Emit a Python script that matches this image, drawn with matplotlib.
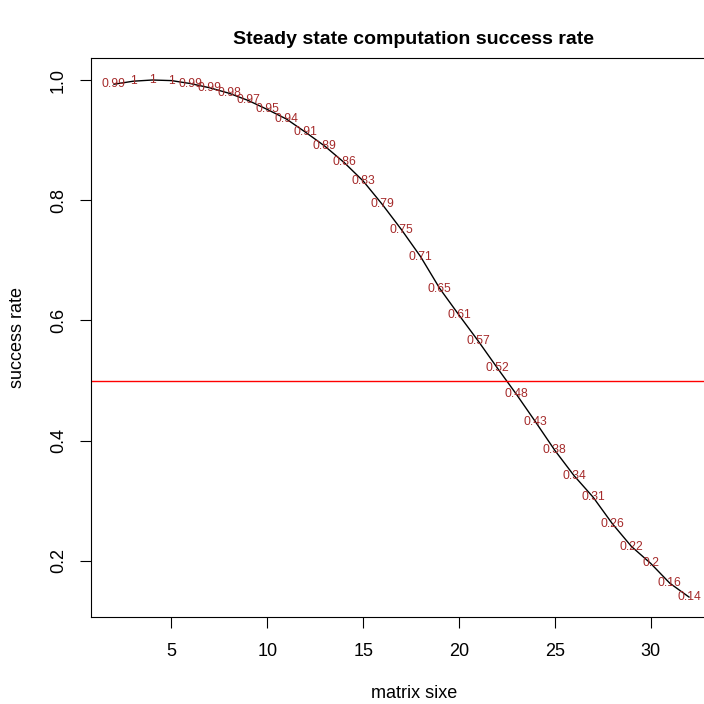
import numpy as np
import matplotlib.pyplot as plt

plt.rcParams['font.family'] = ['Liberation Sans', 'DejaVu Sans']

# matrix size vs. success rate
sizes = np.arange(2, 33)
rates = [0.993, 0.998, 1.0, 0.999, 0.994, 0.987, 0.978, 0.966, 0.951, 0.935,
         0.913, 0.890, 0.863, 0.832, 0.793, 0.751, 0.706, 0.653, 0.609, 0.566,
         0.521, 0.477, 0.431, 0.384, 0.342, 0.306, 0.262, 0.224, 0.196, 0.163,
         0.140]
labels = ['0.99', '1', '1', '1', '0.99', '0.99', '0.98', '0.97', '0.95', '0.94',
          '0.91', '0.89', '0.86', '0.83', '0.79', '0.75', '0.71', '0.65', '0.61',
          '0.57', '0.52', '0.48', '0.43', '0.38', '0.34', '0.31', '0.26', '0.22',
          '0.2', '0.16', '0.14']
threshold = 0.5

W = 704
fig = plt.figure(figsize=(7.04, 7.04), dpi=100)
ax = fig.add_axes([91 / W, 1 - 617 / W, (712 - 91) / W, (617 - 58) / W])

ax.plot(sizes, rates, color='black', linewidth=1)
for x, y, t in zip(sizes, rates, labels):
    ax.text(x, y, t, color='#A52A2A', fontsize=8.7, ha='center', va='center')
ax.axhline(threshold, color='red', linewidth=1)

ax.set_xlim(0.8, 33.2)
ax.set_ylim(0.1068, 1.0366)
ax.set_xticks([5, 10, 15, 20, 25, 30])
ax.set_yticks([0.2, 0.4, 0.6, 0.8, 1.0])
ax.set_yticklabels(['0.2', '0.4', '0.6', '0.8', '1.0'], rotation=90, va='center')
ax.tick_params(direction='out', length=7.7, labelsize=13)
ax.tick_params(axis='x', pad=11.3)
ax.tick_params(axis='y', pad=9.5)

ax.set_xlabel('matrix sixe', fontsize=13, va='center')
ax.xaxis.set_label_coords((414 - 91) / 621, (617 - 693) / 559)
ax.set_ylabel('success rate', fontsize=13, va='center')
ax.yaxis.set_label_coords((17 - 91) / 621, (617 - 337) / 559)

fig.text(414 / W, 1 - 40 / W, 'Steady state computation success rate',
         fontsize=14, fontweight='bold', ha='center', va='center')

fig.savefig('out.png', dpi=100)
